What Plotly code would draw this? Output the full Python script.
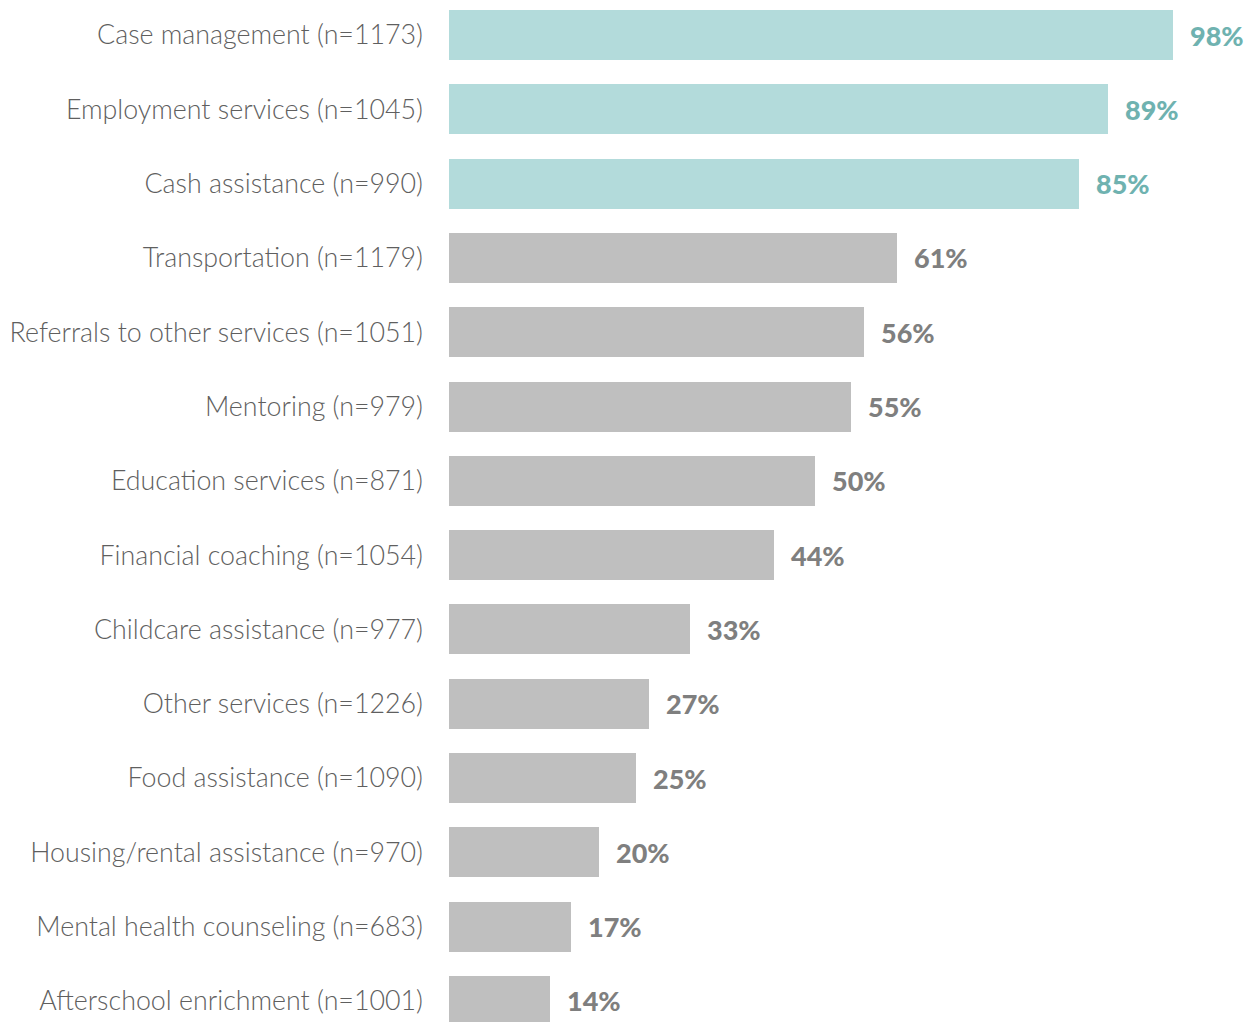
import plotly.graph_objects as go

categories = [
    "Case management (n=1173)",
    "Employment services (n=1045)",
    "Cash assistance (n=990)",
    "Transportation (n=1179)",
    "Referrals to other services (n=1051)",
    "Mentoring (n=979)",
    "Education services (n=871)",
    "Financial coaching (n=1054)",
    "Childcare assistance (n=977)",
    "Other services (n=1226)",
    "Food assistance (n=1090)",
    "Housing/rental assistance (n=970)",
    "Mental health counseling (n=683)",
    "Afterschool enrichment (n=1001)",
]
values = [98.0, 89.2, 85.3, 60.6, 56.1, 54.4, 49.5, 44.0, 32.6, 27.1, 25.3, 20.3, 16.5, 13.7]
value_labels = ["98%", "89%", "85%", "61%", "56%", "55%", "50%", "44%", "33%", "27%", "25%", "20%", "17%", "14%"]
highlight = [True, True, True] + [False] * 11

bar_teal = "#b3dbdb"
bar_gray = "#bfbfbf"
txt_teal = "#6fb2b0"
txt_gray = "#7f7f7f"

ypos = list(range(len(categories)))
fig = go.Figure()
fig.add_trace(go.Bar(
    x=values, y=ypos, orientation="h",
    marker=dict(color=[bar_teal if h else bar_gray for h in highlight], line=dict(width=0)),
    width=0.673, hoverinfo="skip",
))

for i, (v, lab, h) in enumerate(zip(values, value_labels, highlight)):
    fig.add_annotation(x=v, y=i, text=lab, showarrow=False, xanchor="left", yanchor="middle",
                       xshift=15, font=dict(family="Lato", size=27, weight=900,
                                            color=txt_teal if h else txt_gray))

fig.update_layout(
    width=1255, height=1022,
    margin=dict(l=449, r=0, t=0, b=0),
    paper_bgcolor="white", plot_bgcolor="white",
    showlegend=False,
    bargap=0,
)
fig.update_xaxes(range=[0, 806 / 7.39], visible=False)
fig.update_yaxes(
    range=[13.283, -0.471],
    tickvals=ypos, ticktext=categories,
    tickfont=dict(family="Lato", size=26.8, weight=300, color="#5f5f5f"),
    ticklabelstandoff=25,
    showgrid=False, zeroline=False, showline=False, ticks="",
)

fig.write_html("out.html")
